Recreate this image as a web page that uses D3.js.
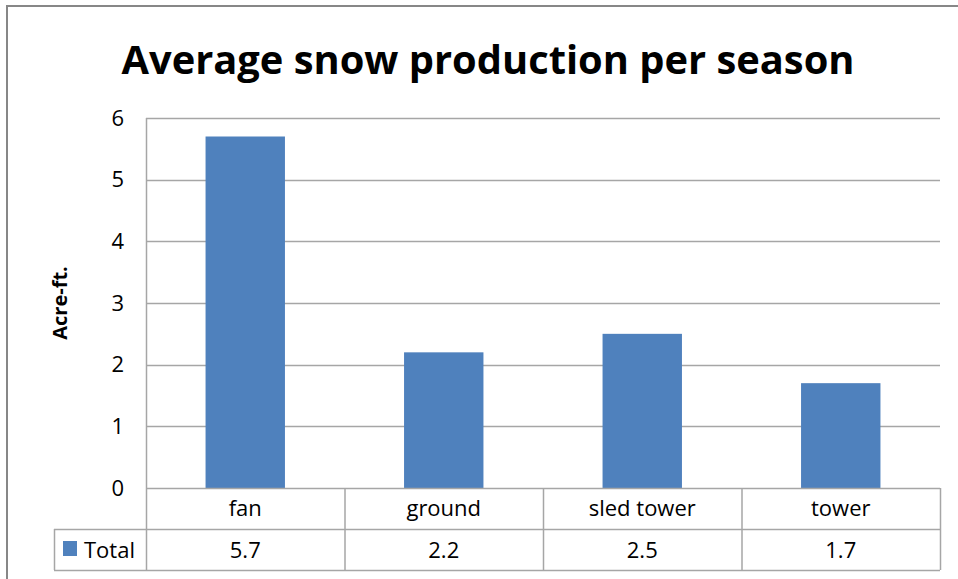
<!DOCTYPE html>
<html>
<head>
<meta charset="utf-8">
<script src="https://cdn.jsdelivr.net/npm/d3@7"></script>
<style>
  body { margin: 0; background: #fff; }
  text { font-family: "Open Sans", "Noto Sans", sans-serif; fill: #000; }
</style>
</head>
<body>
<div id="chart"></div>
<script>
// Data
const categories = ["fan", "ground", "sled tower", "tower"];
const totals = [5.7, 2.2, 2.5, 1.7];
const yTicks = [0, 1, 2, 3, 4, 5, 6];
const seriesName = "Total";

const W = 958, H = 579;
const plot = { left: 146, right: 940, top: 118, bottom: 488 };
const rowH = 41;
const tableLeft = 54;
const gridColor = "#a6a6a6";
const barColor = "#4f81bd";
const labelSize = 22;

const svg = d3.select("#chart").append("svg")
    .attr("width", W)
    .attr("height", H);

// Outer chart border
svg.append("rect")
    .attr("x", 7).attr("y", 6)
    .attr("width", W + 10).attr("height", H + 10)
    .attr("fill", "none")
    .attr("stroke", "#878787")
    .attr("stroke-width", 2);

// Title
svg.append("text")
    .attr("x", 488).attr("y", 74)
    .attr("text-anchor", "middle")
    .attr("font-size", 40)
    .attr("font-weight", "bold")
    .attr("textLength", 733)
    .attr("lengthAdjust", "spacingAndGlyphs")
    .text("Average snow production per season");

// Scales
const x = d3.scaleBand()
    .domain(categories)
    .range([plot.left, plot.right])
    .paddingInner(0.6)
    .paddingOuter(0.3);
const xCell = d3.scaleBand()
    .domain(categories)
    .range([plot.left, plot.right]);
const y = d3.scaleLinear().domain([0, 6]).range([plot.bottom, plot.top]);

// Gridlines
svg.append("g")
    .selectAll("line")
    .data(yTicks.filter(d => d > 0))
    .join("line")
    .attr("x1", plot.left).attr("x2", plot.right)
    .attr("y1", d => Math.round(y(d)) + 0.5).attr("y2", d => Math.round(y(d)) + 0.5)
    .attr("stroke", gridColor)
    .attr("stroke-width", 1.5);

// Y axis labels
const yAxis = svg.append("g")
    .attr("transform", `translate(${plot.left},0)`)
    .call(d3.axisLeft(y).tickValues(yTicks).tickSize(0).tickPadding(22).tickFormat(d3.format("d")));
yAxis.select(".domain").remove();
yAxis.selectAll("text")
    .attr("font-size", labelSize)
    .attr("font-family", "'Open Sans', sans-serif")
    .attr("fill", "#222");

// Y axis title
svg.append("text")
    .attr("transform", `translate(67,303) rotate(-90)`)
    .attr("text-anchor", "middle")
    .attr("font-size", 20)
    .attr("font-weight", "bold")
    .text("Acre-ft.");

// Bars
svg.append("g")
    .selectAll("rect")
    .data(totals)
    .join("rect")
    .attr("x", (d, i) => x(categories[i]))
    .attr("width", x.bandwidth())
    .attr("y", d => y(d))
    .attr("height", d => y(0) - y(d))
    .attr("fill", barColor);

// Left plot border
svg.append("line")
    .attr("x1", plot.left + 0.5).attr("x2", plot.left + 0.5)
    .attr("y1", plot.top).attr("y2", plot.bottom + 2 * rowH)
    .attr("stroke", gridColor).attr("stroke-width", 1.5);

// Data table
const table = svg.append("g").attr("stroke", gridColor).attr("stroke-width", 1.5);
table.append("line")
    .attr("x1", plot.left).attr("x2", plot.right)
    .attr("y1", plot.bottom + 0.5).attr("y2", plot.bottom + 0.5);
table.append("line")
    .attr("x1", tableLeft).attr("x2", plot.right)
    .attr("y1", plot.bottom + rowH + 0.5).attr("y2", plot.bottom + rowH + 0.5);
table.append("line")
    .attr("x1", tableLeft).attr("x2", plot.right)
    .attr("y1", plot.bottom + 2 * rowH + 0.5).attr("y2", plot.bottom + 2 * rowH + 0.5);
table.append("line")
    .attr("x1", tableLeft + 0.5).attr("x2", tableLeft + 0.5)
    .attr("y1", plot.bottom + rowH).attr("y2", plot.bottom + 2 * rowH);
table.selectAll(".col")
    .data(categories)
    .join("line")
    .attr("class", "col")
    .attr("x1", d => xCell(d) + xCell.bandwidth() + 0.5)
    .attr("x2", d => xCell(d) + xCell.bandwidth() + 0.5)
    .attr("y1", plot.bottom).attr("y2", plot.bottom + 2 * rowH);

// Category labels
svg.append("g")
    .selectAll("text")
    .data(categories)
    .join("text")
    .attr("x", d => xCell(d) + xCell.bandwidth() / 2)
    .attr("y", plot.bottom + 28)
    .attr("text-anchor", "middle")
    .attr("font-size", labelSize)
    .attr("fill", "#222")
    .text(d => d);

// Values row
svg.append("g")
    .selectAll("text")
    .data(totals)
    .join("text")
    .attr("x", (d, i) => xCell(categories[i]) + xCell.bandwidth() / 2)
    .attr("y", plot.bottom + rowH + 29)
    .attr("text-anchor", "middle")
    .attr("font-size", labelSize)
    .attr("fill", "#222")
    .text(d => d3.format(".1f")(d));

// Legend key
svg.append("rect")
    .attr("x", 63).attr("y", 541)
    .attr("width", 14).attr("height", 15)
    .attr("fill", barColor);
svg.append("text")
    .attr("x", 84).attr("y", plot.bottom + rowH + 29)
    .attr("font-size", labelSize)
    .attr("fill", "#222")
    .text(seriesName);
</script>
</body>
</html>
